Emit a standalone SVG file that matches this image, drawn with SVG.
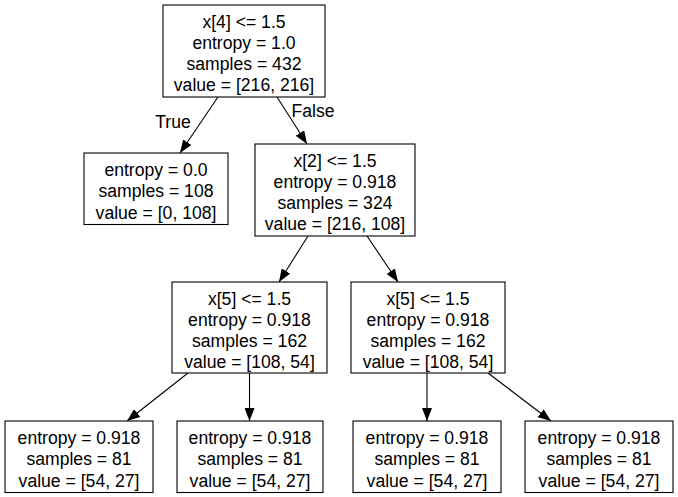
<svg xmlns="http://www.w3.org/2000/svg" width="678" height="497" viewBox="0 0 678 497">
<style>
.box{fill:#fff;stroke:#000;stroke-width:1.1}
text{font-family:"Liberation Sans",Arial,Helvetica,sans-serif;font-size:17.6px;fill:#000;text-anchor:middle}
.edge{stroke:#000;stroke-width:1.1;fill:none;marker-end:url(#ah)}
.lbl{font-size:17.6px}
</style>
<defs>
<marker id="ah" viewBox="0 0 13 10" refX="13" refY="5" markerWidth="13" markerHeight="10" markerUnits="userSpaceOnUse" orient="auto">
<path d="M0,0 L13,5 L0,10 Z" fill="#000"/>
</marker>
</defs>
<rect width="678" height="497" fill="#fff"/>
<g id="connectors">
<line class="edge" x1="218" y1="97" x2="180" y2="153"/>
<line class="edge" x1="277" y1="97" x2="307" y2="144"/>
<text class="lbl" x="173" y="128">True</text>
<text class="lbl" x="313" y="117">False</text>
<line class="edge" x1="308" y1="236" x2="279" y2="282"/>
<line class="edge" x1="367" y1="236" x2="398" y2="282"/>
<line class="edge" x1="188" y1="373" x2="127" y2="421"/>
<line class="edge" x1="249.5" y1="373" x2="249.5" y2="421"/>
<line class="edge" x1="427" y1="373" x2="427" y2="421"/>
<line class="edge" x1="488" y1="373" x2="551" y2="421"/>
</g>
<g id="node0">
<rect class="box" x="163" y="5" width="162" height="92"/>
<text x="244" y="27.5">x[4] &lt;= 1.5</text>
<text x="244" y="48.8">entropy = 1.0</text>
<text x="244" y="70.1">samples = 432</text>
<text x="244" y="91.4">value = [216, 216]</text>
</g>
<g id="node1">
<rect class="box" x="84" y="153" width="144" height="71.5"/>
<text x="156" y="175.9">entropy = 0.0</text>
<text x="156" y="197.2">samples = 108</text>
<text x="156" y="218.5">value = [0, 108]</text>
</g>
<g id="node2">
<rect class="box" x="255" y="144" width="160" height="92"/>
<text x="335" y="166.5">x[2] &lt;= 1.5</text>
<text x="335" y="187.8">entropy = 0.918</text>
<text x="335" y="209.1">samples = 324</text>
<text x="335" y="230.4">value = [216, 108]</text>
</g>
<g id="node3">
<rect class="box" x="172" y="282" width="155" height="91"/>
<text x="249.5" y="304.5">x[5] &lt;= 1.5</text>
<text x="249.5" y="325.8">entropy = 0.918</text>
<text x="249.5" y="347.1">samples = 162</text>
<text x="249.5" y="368.4">value = [108, 54]</text>
</g>
<g id="node4">
<rect class="box" x="351" y="282" width="154" height="91"/>
<text x="428" y="304.5">x[5] &lt;= 1.5</text>
<text x="428" y="325.8">entropy = 0.918</text>
<text x="428" y="347.1">samples = 162</text>
<text x="428" y="368.4">value = [108, 54]</text>
</g>
<g id="node5">
<rect class="box" x="5" y="421" width="148" height="71.5"/>
<text x="79" y="443.9">entropy = 0.918</text>
<text x="79" y="465.2">samples = 81</text>
<text x="79" y="486.5">value = [54, 27]</text>
</g>
<g id="node6">
<rect class="box" x="177" y="421" width="146" height="71.5"/>
<text x="250" y="443.9">entropy = 0.918</text>
<text x="250" y="465.2">samples = 81</text>
<text x="250" y="486.5">value = [54, 27]</text>
</g>
<g id="node7">
<rect class="box" x="353" y="421" width="148" height="71.5"/>
<text x="427" y="443.9">entropy = 0.918</text>
<text x="427" y="465.2">samples = 81</text>
<text x="427" y="486.5">value = [54, 27]</text>
</g>
<g id="node8">
<rect class="box" x="525" y="421" width="148" height="71.5"/>
<text x="599" y="443.9">entropy = 0.918</text>
<text x="599" y="465.2">samples = 81</text>
<text x="599" y="486.5">value = [54, 27]</text>
</g>
</svg>
